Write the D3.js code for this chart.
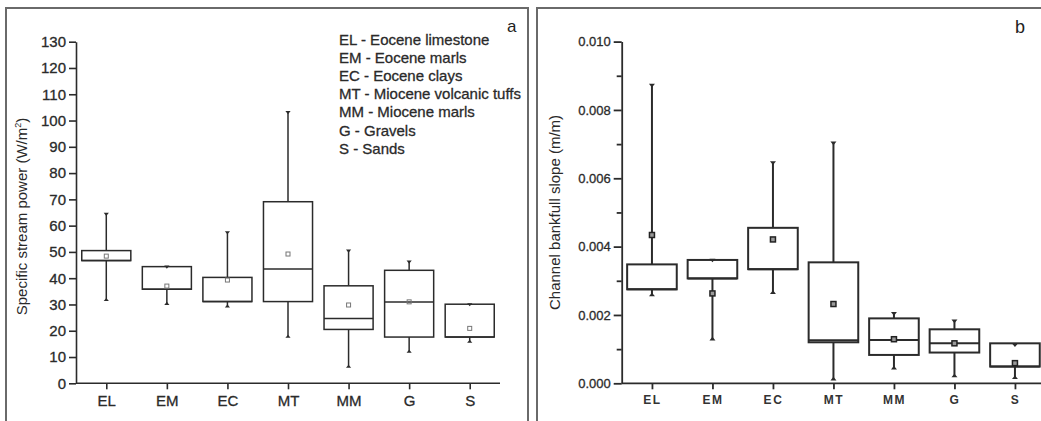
<!DOCTYPE html>
<html>
<head>
<meta charset="utf-8">
<script src="https://cdn.jsdelivr.net/npm/d3@7"></script>
<style>
  html, body { margin: 0; padding: 0; background: #fff; }
  svg { display: block; }
  text { font-family: "Liberation Sans", Arial, sans-serif; }
  .heavy { stroke: #2a2a2a; stroke-width: 0.3px; }
</style>
</head>
<body>
<svg id="chart" width="1041" height="421"></svg>
<script>
// Rock-type groups shared by both panels
const categories = ["EL", "EM", "EC", "MT", "MM", "G", "S"];
const legendLines = [
  "EL - Eocene limestone",
  "EM - Eocene marls",
  "EC - Eocene clays",
  "MT - Miocene volcanic tuffs",
  "MM - Miocene marls",
  "G - Gravels",
  "S - Sands"
];

// Panel a: specific stream power (W/m²)
const powerMin  = [31.7, 30.2, 29.2, 17.7,  6.3, 12.0, 15.8];
const powerQ1   = [46.7, 35.8, 31.1, 31.1, 20.5, 17.6, 17.6];
const powerMed  = [46.7, 35.8, 31.1, 43.5, 24.7, 30.9, 17.6];
const powerQ3   = [50.5, 44.4, 40.3, 69.1, 37.1, 43.0, 30.1];
const powerMax  = [64.5, 44.4, 57.5, 103.2, 50.5, 46.3, 30.1];
const powerMean = [48.4, 37.0, 39.3, 49.2, 29.8, 31.0, 20.9];
const powerTicks = d3.range(0, 131, 10);

// Panel b: channel bankfull slope (m/m)
const slopeMin  = [0.00258, 0.00129, 0.00265, 0.00012, 0.00044, 0.00021, 0.00016];
const slopeQ1   = [0.00275, 0.00307, 0.00334, 0.00120, 0.00083, 0.00090, 0.00049];
const slopeMed  = [0.00275, 0.00307, 0.00334, 0.00126, 0.00127, 0.00117, 0.00049];
const slopeQ3   = [0.00348, 0.00361, 0.00455, 0.00354, 0.00190, 0.00158, 0.00117];
const slopeMax  = [0.00873, 0.00361, 0.00646, 0.00704, 0.00205, 0.00183, 0.00113];
const slopeMean = [0.00434, 0.00263, 0.00421, 0.00232, 0.00129, 0.00117, 0.00059];
const slopeMajorTicks = [0, 0.002, 0.004, 0.006, 0.008, 0.010];
const slopeMinorTicks = [0.001, 0.003, 0.005, 0.007, 0.009];

const svg = d3.select("#chart");
const ink = "#2b2b2b";

function rows(mins, q1s, meds, q3s, maxs, means) {
  return categories.map((c, i) => ({
    cat: c, min: mins[i], q1: q1s[i], med: meds[i], q3: q3s[i], max: maxs[i], mean: means[i]
  }));
}

// Panel frames
svg.append("path")
  .attr("d", "M6,421V8H528V421")
  .attr("fill", "none").attr("stroke", "#6a6a6a").attr("stroke-width", 2);
svg.append("path")
  .attr("d", "M537,421V8H1041")
  .attr("fill", "none").attr("stroke", "#6a6a6a").attr("stroke-width", 2);

function drawBoxes(g, data, x, y, o) {
  const w = x.step() * o.boxFrac;
  const grp = g.selectAll("g.box").data(data).join("g").attr("class", "box")
    .attr("transform", d => `translate(${x(d.cat)},0)`);
  // whiskers
  grp.append("line").attr("x1", 0).attr("x2", 0)
    .attr("y1", d => y(d.q3)).attr("y2", d => y(d.max))
    .attr("stroke", ink).attr("stroke-width", o.sw);
  grp.append("line").attr("x1", 0).attr("x2", 0)
    .attr("y1", d => y(d.q1)).attr("y2", d => y(d.min))
    .attr("stroke", ink).attr("stroke-width", o.sw);
  // box
  grp.append("rect")
    .attr("x", -w / 2).attr("width", w)
    .attr("y", d => y(d.q3)).attr("height", d => y(d.q1) - y(d.q3))
    .attr("fill", "#fff").attr("stroke", ink).attr("stroke-width", o.sw);
  // median
  grp.append("line").attr("x1", -w / 2).attr("x2", w / 2)
    .attr("y1", d => y(d.med)).attr("y2", d => y(d.med))
    .attr("stroke", ink).attr("stroke-width", o.sw);
  // caps: max (down triangle) and min (up triangle)
  const t = o.cap;
  grp.append("path")
    .attr("d", d => `M${-t},${y(d.max) - t * 0.4}L${t},${y(d.max) - t * 0.4}L0,${y(d.max) + t * 0.8}Z`)
    .attr("fill", ink);
  grp.append("path")
    .attr("d", d => `M${-t},${y(d.min) + t * 0.4}L${t},${y(d.min) + t * 0.4}L0,${y(d.min) - t * 0.8}Z`)
    .attr("fill", ink);
  // mean marker
  grp.append("rect")
    .attr("x", -o.meanSize / 2).attr("width", o.meanSize)
    .attr("y", d => y(d.mean) - o.meanSize / 2).attr("height", o.meanSize)
    .attr("fill", o.meanFill).attr("stroke", o.meanStroke).attr("stroke-width", o.meanSw);
}

// ---------- Panel a ----------
{
  const left = 76, right = 500, top = 41.7, bottom = 383.3;
  const x = d3.scalePoint().domain(categories).range([left, right]).padding(0.5);
  const y = d3.scaleLinear().domain([0, 130]).range([bottom, top]);
  const g = svg.append("g");

  const ya = g.append("g").attr("transform", `translate(${left},0)`)
    .call(d3.axisLeft(y).tickValues(powerTicks).tickSize(7).tickSizeOuter(0).tickPadding(3));
  ya.selectAll("text").attr("font-size", 15).attr("fill", "#2a2a2a").attr("class", "heavy");
  ya.selectAll("line, path").attr("stroke", ink).attr("stroke-width", 1.6);

  const xa = g.append("g").attr("transform", `translate(0,${bottom})`)
    .call(d3.axisBottom(x).tickSize(6).tickSizeOuter(0).tickPadding(6));
  xa.select(".domain").attr("d", `M${left},0H${right}`);
  xa.selectAll("text").attr("font-size", 15).attr("fill", "#2a2a2a").attr("class", "heavy");
  xa.selectAll("line, path").attr("stroke", ink).attr("stroke-width", 1.6);

  drawBoxes(g, rows(powerMin, powerQ1, powerMed, powerQ3, powerMax, powerMean), x, y,
    { boxFrac: 0.81, sw: 1.5, cap: 2.6, meanSize: 4, meanFill: "none", meanStroke: "#777", meanSw: 1 });

  const yl = g.append("text")
    .attr("transform", `translate(27,${(top + bottom) / 2 + 4}) rotate(-90)`)
    .attr("text-anchor", "middle").attr("font-size", 15).attr("fill", "#2a2a2a");
  yl.append("tspan").text("Specific stream power (W/m");
  yl.append("tspan").attr("font-size", 9).attr("dy", -6).text("2");
  yl.append("tspan").attr("dy", 6).text(")");

  g.append("g").selectAll("text").data(legendLines).join("text")
    .attr("x", 339).attr("y", (d, i) => 45 + i * 18.1)
    .attr("font-size", 15).attr("fill", "#2a2a2a").attr("class", "heavy").text(d => d);

  g.append("text").attr("x", 507).attr("y", 32)
    .attr("font-family", "'Liberation Serif', 'Times New Roman', serif")
    .attr("font-size", 17).attr("fill", "#222").text("a");
}

// ---------- Panel b ----------
{
  const left = 621.7, top = 41.6, bottom = 383.3;
  const step = 60.5;
  const right = left + step * categories.length;
  const x = d3.scalePoint().domain(categories).range([left, right]).padding(0.5);
  const y = d3.scaleLinear().domain([0, 0.010]).range([bottom, top]);
  const g = svg.append("g");

  const ya = g.append("g").attr("transform", `translate(${left},0)`)
    .call(d3.axisLeft(y).tickValues(slopeMajorTicks).tickFormat(d3.format(".3f"))
      .tickSize(8).tickSizeOuter(0).tickPadding(3));
  ya.selectAll("text").attr("font-size", 13).attr("fill", "#2a2a2a").attr("class", "heavy");
  ya.selectAll("line, path").attr("stroke", ink).attr("stroke-width", 1.8);
  g.append("g").attr("transform", `translate(${left},0)`)
    .call(d3.axisLeft(y).tickValues(slopeMinorTicks).tickSize(5).tickSizeOuter(0).tickFormat(""))
    .call(s => s.select(".domain").remove())
    .selectAll("line").attr("stroke", ink).attr("stroke-width", 1.8);

  const xa = g.append("g").attr("transform", `translate(0,${bottom})`)
    .call(d3.axisBottom(x).tickSize(6).tickSizeOuter(0).tickPadding(6));
  xa.select(".domain").attr("d", `M${left},0H${right}`);
  xa.selectAll("text").attr("font-size", 12).attr("font-weight", "bold")
    .attr("letter-spacing", 1.5).attr("fill", "#333");
  xa.selectAll("line, path").attr("stroke", ink).attr("stroke-width", 1.8);

  drawBoxes(g, rows(slopeMin, slopeQ1, slopeMed, slopeQ3, slopeMax, slopeMean), x, y,
    { boxFrac: 0.82, sw: 2, cap: 3, meanSize: 5, meanFill: "#9a9a9a", meanStroke: "#222", meanSw: 1.5 });

  g.append("text")
    .attr("transform", `translate(560,${(top + bottom) / 2}) rotate(-90)`)
    .attr("text-anchor", "middle").attr("font-size", 15).attr("fill", "#2a2a2a")
    .text("Channel bankfull slope (m/m)");

  g.append("text").attr("x", 1015).attr("y", 33)
    .attr("font-family", "'Liberation Serif', 'Times New Roman', serif")
    .attr("font-size", 18).attr("fill", "#222").text("b");
}
</script>
</body>
</html>
